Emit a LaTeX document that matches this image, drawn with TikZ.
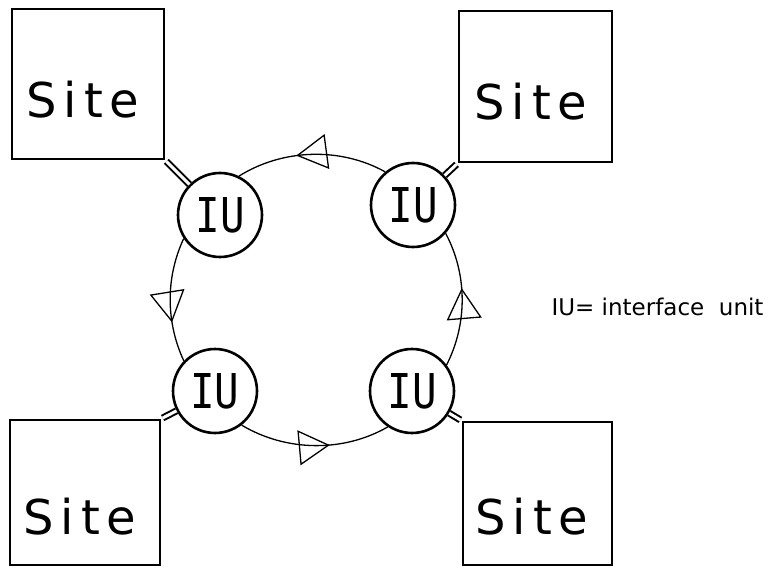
\documentclass[tikz,border=0pt]{standalone}
\usepackage{fontspec}
\usetikzlibrary{arrows.meta,decorations.markings}
\newfontfamily\sitefont[LetterSpace=14]{DejaVu Sans}
\newfontfamily\iufont[FakeStretch=0.85]{DejaVu Sans Mono}
\newfontfamily\keyfont{DejaVu Sans}
\tikzset{flow/.style={postaction={decorate},
    decoration={markings,mark=at position #1 with {\arrow{Triangle[open,length=31pt,width=35pt]}}}}}

\begin{document}
\begin{tikzpicture}[x=1pt,y=1pt]
\useasboundingbox (0,0) rectangle (774,-575);
\begin{scope}[every node/.style={rectangle,draw,line width=2.6pt}]
    \node[minimum width=152pt,minimum height=150pt] (s1) at (88,-84) {};
    \node[minimum width=153pt,minimum height=151pt] (s2) at (535.5,-86.5) {};
    \node[minimum width=150pt,minimum height=145pt] (s3) at (85,-492.5) {};
    \node[minimum width=149pt,minimum height=143pt] (s4) at (537.5,-493.5) {};
\end{scope}
\begin{scope}[every node/.style={font=\sitefont\fontsize{48}{48}\selectfont}]
    \node (t1) at (83,-100) {Site};
    \node (t2) at (531,-102) {Site};
    \node (t3) at (80,-517) {Site};
    \node (t4) at (532,-517) {Site};
\end{scope}
\begin{scope}[every node/.style={circle,draw,line width=2.6pt,minimum size=84pt,inner sep=0pt,
              font=\iufont\fontsize{48}{48}\selectfont}]
    \node (u1) at (220,-215) {IU};
    \node (u2) at (413,-205) {IU};
    \node (u3) at (215,-391) {IU};
    \node (u4) at (412,-391) {IU};
\end{scope}
\begin{scope}[every edge/.style={draw=black,line width=2pt,double,double distance=3pt,shorten >=1.5pt}]
    \path (u1) edge (s1.south east);
    \path (u2) edge (s2.south west);
    \path (u3) edge (s3.north east);
    \path (u4) edge (s4.north west);
\end{scope}
\begin{scope}[every edge/.style={draw=black,line width=1.3pt,looseness=0.9}]
    \path (u2.130) edge[out=151,in=32,flow=0.6] (u1.64);
    \path (u1.213) edge[out=245,in=115,flow=0.68] (u3.136);
    \path (u3.308) edge[out=329,in=210,flow=0.6] (u4.236);
    \path (u4.37) edge[out=63,in=-62,flow=0.58] (u2.319);
\end{scope}
\node[anchor=base west,font=\keyfont\fontsize{23}{23}\selectfont] (key) at (548,-315) {IU= interface~~unit};
\end{tikzpicture}
\end{document}
